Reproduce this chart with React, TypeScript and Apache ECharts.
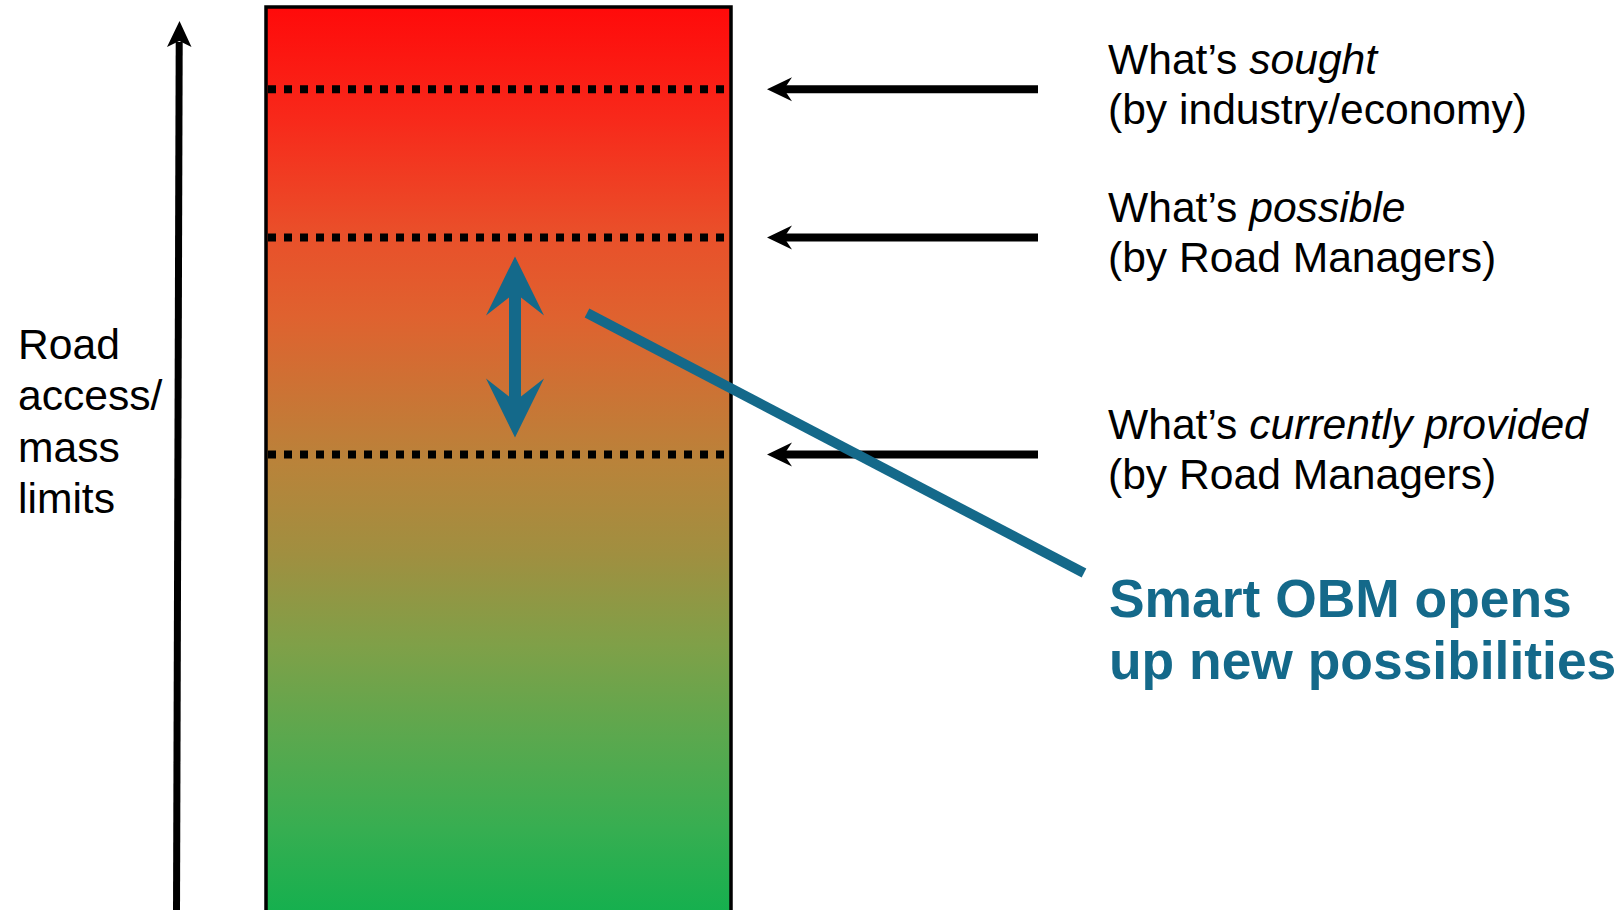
import React, { useEffect, useRef } from "react";
import * as echarts from "echarts";

// ---- data ----
const levelWords = ["sought", "possible", "currently provided"];
const levelSubtitles = ["(by industry/economy)", "(by Road Managers)", "(by Road Managers)"];
// level heights on a 0..100 "road access / mass limit" scale
const levelValues = [90.8, 74.4, 50.4];
const axisLabelLines = ["Road", "access/", "mass", "limits"];
const calloutLines = ["Smart OBM opens", "up new possibilities"];

const FONT = "Liberation Sans, Arial, Helvetica, sans-serif";
const TEAL = "#14698a";
const FS = 42.6;

export default function App() {
  const ref = useRef<HTMLDivElement>(null);
  useEffect(() => {
    if (!ref.current) return;
    const chart = echarts.init(ref.current, undefined, { renderer: "svg" });

    const graphics: any[] = [];
    // gradient bar
    graphics.push({
      type: "rect",
      z: 0,
      shape: { x: 266, y: 7, width: 465, height: 912 },
      style: {
        fill: {
          type: "linear",
          x: 0,
          y: 0,
          x2: 0,
          y2: 1,
          colorStops: [
            { offset: 0, color: "#ff0a0a" },
            { offset: 0.12, color: "#f8281a" },
            { offset: 0.25, color: "#e9502a" },
            { offset: 0.34, color: "#df622f" },
            { offset: 0.5, color: "#b9833a" },
            { offset: 0.6, color: "#a08f40" },
            { offset: 0.7, color: "#7fa048" },
            { offset: 0.8, color: "#5ba84e" },
            { offset: 0.9, color: "#37ae51" },
            { offset: 1, color: "#12b04e" },
          ],
        },
        stroke: "#000",
        lineWidth: 3.5,
      },
    });
    // vertical axis arrow
    graphics.push({
      type: "line",
      z: 5,
      shape: { x1: 176.5, y1: 915, x2: 179.2, y2: 42 },
      style: { stroke: "#000", lineWidth: 7 },
    });
    graphics.push({
      type: "polygon",
      z: 5,
      shape: { points: [[179.5, 21], [191.5, 47], [179.3, 41], [167, 47]] },
      style: { fill: "#000" },
    });
    // left label
    axisLabelLines.forEach((t, i) => {
      graphics.push({
        type: "text",
        z: 5,
        x: 18,
        y: 344 + i * 51.3,
        style: {
          text: t,
          fontSize: FS,
          fontFamily: FONT,
          fill: "#000",
          align: "left",
          verticalAlign: "middle",
        },
      });
    });
    // teal callout line
    graphics.push({
      type: "line",
      z: 100,
      shape: { x1: 587, y1: 313, x2: 1084, y2: 573 },
      style: { stroke: TEAL, lineWidth: 10 },
    });
    calloutLines.forEach((t, i) => {
      graphics.push({
        type: "text",
        z: 100,
        x: 1109,
        y: 598 + i * 62,
        style: {
          text: t,
          fontSize: 53.4,
          fontWeight: "bold",
          fontFamily: FONT,
          fill: TEAL,
          align: "left",
          verticalAlign: "middle",
        },
      });
    });

    chart.setOption({
      animation: false,
      grid: { left: 0, right: 0, top: 6, bottom: 0 },
      xAxis: { type: "value", min: 0, max: 1619, show: false },
      yAxis: { type: "value", min: 0, max: 100, show: false },
      graphic: graphics,
      series: [
        {
          type: "custom",
          z: 10,
          data: levelValues.map((v, i) => [0, v, i]),
          renderItem: (params: any, api: any) => {
            const y = api.coord([0, api.value(1)])[1];
            const i = params.dataIndex;
            return {
              type: "group",
              children: [
                {
                  type: "line",
                  shape: { x1: 268, y1: y, x2: 724, y2: y },
                  style: { stroke: "#000", lineWidth: 8, lineDash: [8, 8] },
                },
                {
                  type: "line",
                  shape: { x1: 783, y1: y, x2: 1038, y2: y },
                  style: { stroke: "#000", lineWidth: 8 },
                },
                {
                  type: "polygon",
                  shape: { points: [[767, y], [792, y - 12], [784, y], [792, y + 12]] },
                  style: { fill: "#000" },
                },
                {
                  type: "text",
                  x: 1108,
                  y: y - 5,
                  style: {
                    text: `{n|What’s }{i|${levelWords[i]}}\n{n|${levelSubtitles[i]}}`,
                    align: "left",
                    verticalAlign: "middle",
                    rich: {
                      n: { fontSize: FS, fontFamily: FONT, lineHeight: 50, fill: "#000" },
                      i: { fontSize: FS, fontFamily: FONT, lineHeight: 50, fill: "#000", fontStyle: "italic" },
                    },
                  },
                },
              ],
            };
          },
        },
        {
          type: "custom",
          z: 20,
          data: [[0, levelValues[1], levelValues[2]]],
          renderItem: (params: any, api: any) => {
            const yT = api.coord([0, api.value(1)])[1] + 19;
            const yB = api.coord([0, api.value(2)])[1] - 17;
            const cx = 515;
            return {
              type: "polygon",
              shape: {
                points: [
                  [cx, yT],
                  [cx + 29, yT + 59],
                  [cx + 6, yT + 41],
                  [cx + 6, yB - 41],
                  [cx + 29, yB - 59],
                  [cx, yB],
                  [cx - 29, yB - 59],
                  [cx - 6, yB - 41],
                  [cx - 6, yT + 41],
                  [cx - 29, yT + 59],
                ],
              },
              style: { fill: TEAL },
            };
          },
        },
      ],
    });
    return () => chart.dispose();
  }, []);
  return (
    <div
      ref={ref}
      style={{ position: "fixed", left: 0, top: 0, width: 1619, height: 910, background: "#fff" }}
    />
  );
}
